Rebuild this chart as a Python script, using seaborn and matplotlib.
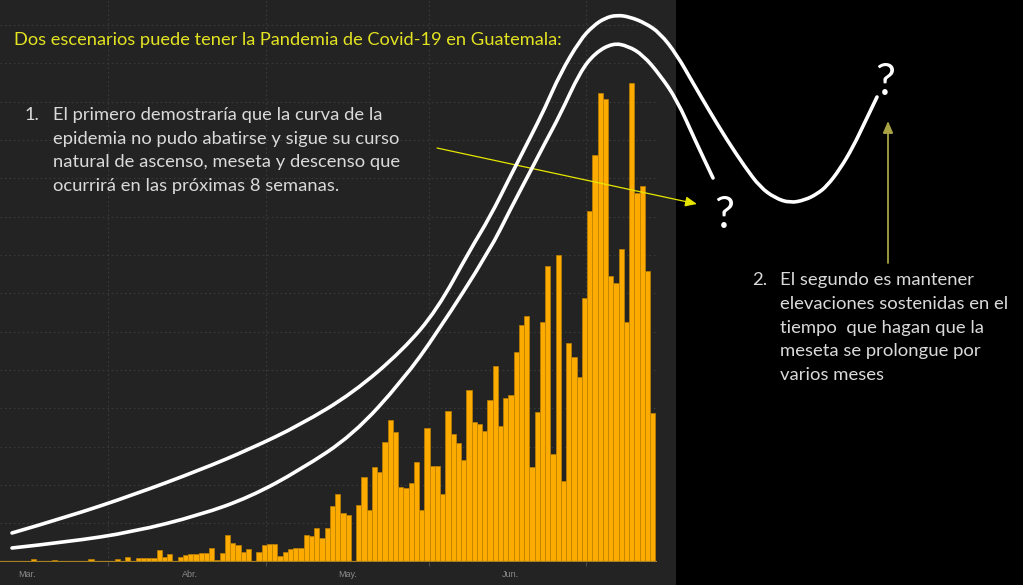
"""Covid-19 Guatemala: daily cases with two hand-drawn scenario curves."""

import matplotlib

matplotlib.use("Agg")
import matplotlib.pyplot as plt
import numpy as np
import seaborn as sns
from matplotlib.patches import PathPatch, Rectangle
from matplotlib.path import Path

# --- data -------------------------------------------------------------------
# day 0 = 1 Mar 2020, one bar per day
days = list(range(119))
new_cases = [
    6, 1, 3, 3, 5, 3, 1, 1, 3, 1,
    3, 8, 1, 3, 3, 1, 8, 1, 13, 1,
    9, 9, 10, 9, 31, 13, 21, 0, 13, 17,
    19, 21, 22, 22, 35, 5, 22, 70, 48, 44,
    26, 32, 0, 26, 44, 46, 46, 15, 26, 34,
    37, 35, 70, 68, 87, 63, 87, 145, 177, 126,
    122, 0, 149, 222, 135, 248, 233, 313, 370, 337,
    196, 193, 204, 261, 135, 350, 250, 250, 177, 394,
    333, 309, 265, 448, 365, 359, 341, 422, 511, 354,
    426, 435, 546, 618, 641, 248, 391, 624, 772, 281,
    800, 211, 570, 535, 481, 687, 915, 1061, 1222, 1207,
    746, 726, 815, 624, 1248, 961, 980, 758, 389,
]
month_labels = ["Mar.", "Abr.", "May.", "Jun."]
month_start = [0, 31, 61, 92]
mid_month = [14, 44, 75, 105]

# hand-drawn scenario curves (figure pixels, y measured from the top)
upper_x = [12, 67, 133, 200, 250, 300, 353, 403, 437, 470, 490, 510, 530, 545,
           560, 580, 593, 605, 617, 630, 645, 660, 677, 693, 710, 727, 745,
           760, 775, 790, 805, 817, 827, 840, 853, 865, 877]
upper_y = [533, 517, 495, 470, 449, 425, 393, 350, 310, 250, 217, 177, 138, 108,
           74, 40, 26, 18, 15, 17, 23, 33, 55, 83, 112, 140, 167,
           187, 198, 203, 200, 194, 186, 169, 147, 122, 97]
lower_x = [12, 67, 133, 200, 250, 300, 353, 403, 437, 490, 510, 530, 545, 560,
           580, 595, 613, 628, 643, 660, 677, 695, 713]
lower_y = [548, 542, 532, 515, 497, 470, 435, 380, 333, 250, 210, 172, 143, 115,
           72, 53, 43, 46, 55, 75, 100, 140, 178]

title = "Dos escenarios puede tener la Pandemia de Covid-19 en Guatemala:"
scenario_1 = [
    "El primero demostraría que la curva de la",
    "epidemia no pudo abatirse y sigue su curso",
    "natural de ascenso, meseta y descenso que",
    "ocurrirá en las próximas 8 semanas.",
]
scenario_2 = [
    "El segundo es mantener",
    "elevaciones sostenidas en el",
    "tiempo  que hagan que la",
    "meseta se prolongue por",
    "varios meses",
]

BAR = "#fdab00"
PANEL = "#232323"
W, H = 1023, 585

plt.rcParams["font.family"] = ["Lato", "DejaVu Sans"]

fig = plt.figure(figsize=(W / 100, H / 100), dpi=100, facecolor="black")
fig.patches.append(
    Rectangle((0, 0), 676 / W, 1, transform=fig.transFigure,
              facecolor=PANEL, edgecolor="none", zorder=-10)
)

# --- bar chart --------------------------------------------------------------
ax = fig.add_axes([0, 23.3 / H, 657 / W, 561.7 / H])
ax.set_facecolor("none")
sns.barplot(
    x=days, y=new_cases, color=BAR, saturation=1, width=1.0,
    edgecolor="#bf8200", linewidth=0.5, errorbar=None, ax=ax, zorder=2,
)
ax.axhline(0, color="#a8821f", lw=1.6, zorder=3)
ax.set_xlim(-6.34, 118.8)
ax.set_ylim(0, 1465)
ax.set_xlabel("")
ax.set_ylabel("")
for s in ax.spines.values():
    s.set_visible(False)

ax.set_xticks([d + 0.3 for d in mid_month], labels=[""] * len(mid_month))
ax.set_xticks([d - 1.2 for d in month_start], labels=month_labels, minor=True)
ax.set_yticks(np.arange(0, 1465, 100))
ax.tick_params(axis="y", left=False, labelleft=False)
ax.tick_params(axis="x", which="major", length=3, color="#4a4a4a", width=0.8)
ax.tick_params(axis="x", which="minor", length=0, pad=6, labelsize=6.5,
               labelcolor="#8a8a8a", labelfontfamily="Liberation Sans")
ax.set_axisbelow(True)
ax.grid(True, which="major", color="#3a3a3a", lw=0.8, ls=(0, (1.5, 2.5)))

# --- overlay in pixel space for drawings and text ---------------------------
over = fig.add_axes([0, 0, 1, 1])
over.set_xlim(0, W)
over.set_ylim(H, 0)
over.axis("off")
over.set_facecolor("none")


def smooth_path(xs, ys):
    """Quadratic Bezier chain: read points act as control points."""
    pts = list(zip(xs, ys))
    verts, codes = [pts[0]], [Path.MOVETO]
    for i in range(1, len(pts) - 1):
        mid = ((pts[i][0] + pts[i + 1][0]) / 2, (pts[i][1] + pts[i + 1][1]) / 2)
        verts += [pts[i], mid]
        codes += [Path.CURVE3, Path.CURVE3]
    verts.append(pts[-1])
    codes.append(Path.LINETO)
    return Path(verts, codes)


for xs, ys in ((upper_x, upper_y), (lower_x, lower_y)):
    over.add_patch(PathPatch(smooth_path(xs, ys), facecolor="none",
                             edgecolor="white", lw=2.6, capstyle="round",
                             joinstyle="round", zorder=5))

over.annotate(
    "", xy=(697, 204), xytext=(437, 148),
    arrowprops=dict(arrowstyle="-|>,head_length=0.7,head_width=0.3",
                    color="#e6e600", lw=0.9, shrinkA=0, shrinkB=0),
)
over.annotate(
    "", xy=(888, 121), xytext=(888, 263),
    arrowprops=dict(arrowstyle="-|>,head_length=0.7,head_width=0.3",
                    color="#a8a245", lw=1.3, shrinkA=0, shrinkB=0),
)

renderer = fig.canvas.get_renderer()


def fit_width(txt, width_px):
    bb = txt.get_window_extent(renderer)
    txt.set_fontsize(txt.get_fontsize() * width_px / bb.width)
    return txt.get_fontsize()


t = over.text(14, 45, title, color="#e3e322", fontsize=14, va="baseline")
fit_width(t, 549)

TXT = "#dadada"
lines1 = [over.text(53, 120 + 23.6 * k, s, color=TXT, fontsize=13,
                    va="baseline") for k, s in enumerate(scenario_1)]
size1 = fit_width(lines1[2], 345)
for t in lines1:
    t.set_fontsize(size1)
over.text(25, 120, "1.", color=TXT, fontsize=size1, va="baseline")

lines2 = [over.text(780, 285 + 23.8 * k, s, color=TXT, fontsize=13,
                    va="baseline") for k, s in enumerate(scenario_2)]
size2 = fit_width(lines2[0], 193)
for t in lines2:
    t.set_fontsize(size2)
over.text(752, 285, "2.", color=TXT, fontsize=size2, va="baseline")

over.text(724, 228, "?", color="white", fontsize=32, ha="center", va="baseline")
over.text(885, 95, "?", color="white", fontsize=32, ha="center", va="baseline")

fig.savefig("out.png", dpi=100, facecolor=fig.get_facecolor())
